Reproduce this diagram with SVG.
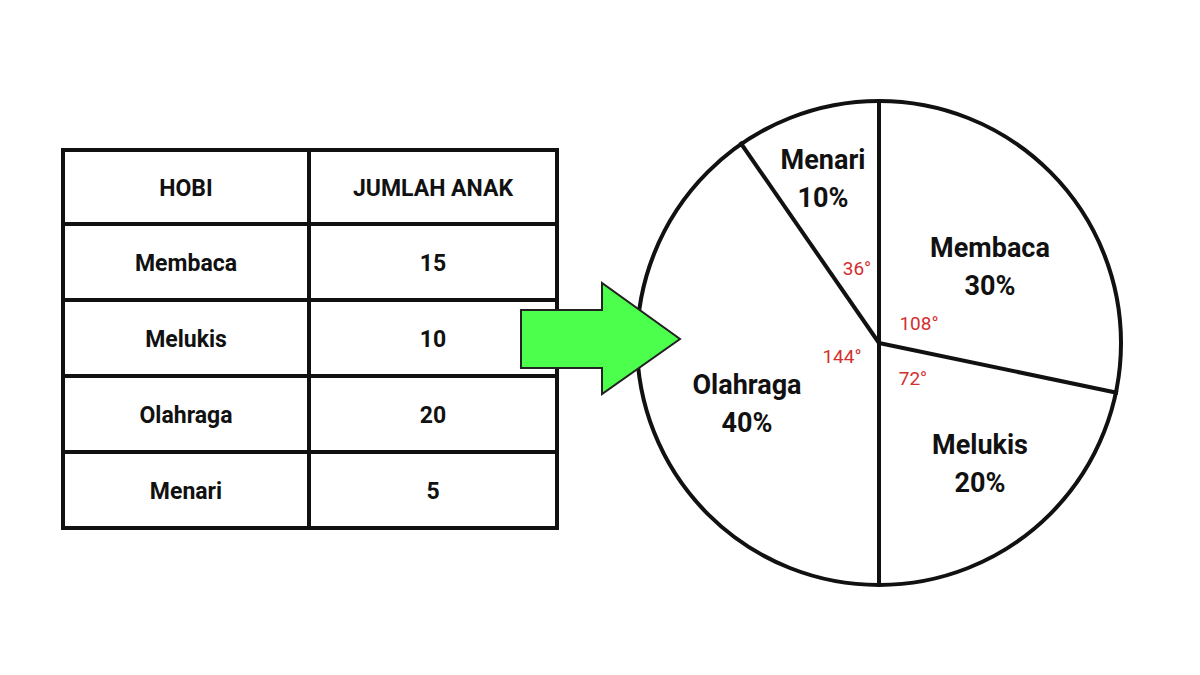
<svg xmlns="http://www.w3.org/2000/svg" width="1200" height="675" viewBox="0 0 1200 675">
<style>
.t{font-family:Roboto,"Liberation Sans",sans-serif;font-weight:bold;fill:#111;text-anchor:middle}
.tb{font-size:23px}
.pl{font-size:27px}
.a{font-family:Roboto,"Liberation Sans",sans-serif;font-size:19px;fill:#d32f2f;text-anchor:middle}
.ln{stroke:#111;stroke-width:4;fill:none}
</style>
<rect width="1200" height="675" fill="#fff"/>
<g id="table">
<rect class="ln" x="63" y="150" width="494" height="378"/>
<line class="ln" x1="309" y1="150" x2="309" y2="528"/>
<line class="ln" x1="63" y1="224" x2="557" y2="224"/>
<line class="ln" x1="63" y1="300" x2="557" y2="300"/>
<line class="ln" x1="63" y1="376" x2="557" y2="376"/>
<line class="ln" x1="63" y1="452" x2="557" y2="452"/>
<text class="t tb" x="186" y="196">HOBI</text>
<text class="t tb" x="433" y="196">JUMLAH ANAK</text>
<text class="t tb" x="186" y="271">Membaca</text><text class="t tb" x="433" y="271">15</text>
<text class="t tb" x="186" y="347">Melukis</text><text class="t tb" x="433" y="347">10</text>
<text class="t tb" x="186" y="423">Olahraga</text><text class="t tb" x="433" y="423">20</text>
<text class="t tb" x="186" y="499">Menari</text><text class="t tb" x="433" y="499">5</text>
</g>
<g id="pie">
<circle class="ln" cx="879" cy="343" r="242"/>
<g id="connectors">
<line class="ln" x1="879" y1="343" x2="879" y2="101"/>
<line class="ln" x1="879" y1="343" x2="879" y2="585"/>
<line class="ln" x1="879" y1="343" x2="1118" y2="393"/>
<line class="ln" x1="879" y1="343" x2="740" y2="142"/>
</g>
<text class="t pl" x="823" y="169">Menari</text><text class="t pl" x="823" y="207">10%</text>
<text class="t pl" x="990" y="257">Membaca</text><text class="t pl" x="990" y="295">30%</text>
<text class="t pl" x="747" y="394">Olahraga</text><text class="t pl" x="747" y="432">40%</text>
<text class="t pl" x="980" y="454">Melukis</text><text class="t pl" x="980" y="492">20%</text>
<text class="a" x="857" y="275">36°</text>
<text class="a" x="919" y="330">108°</text>
<text class="a" x="842" y="363">144°</text>
<text class="a" x="913" y="385">72°</text>
</g>
<g id="arrow">
<polygon points="521,310 602,310 602,283 680,339 602,394 602,368 521,368" fill="#4dff4d" stroke="#222" stroke-width="2"/>
</g>
</svg>
